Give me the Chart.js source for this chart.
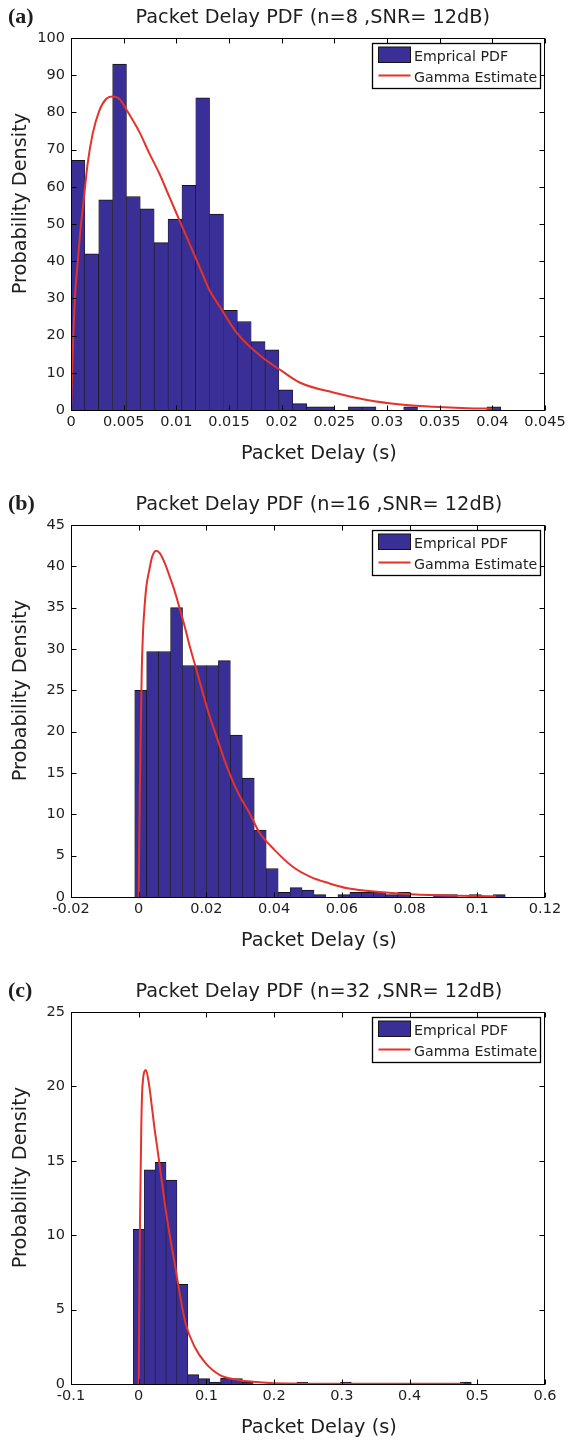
<!DOCTYPE html>
<html>
<head>
<meta charset="utf-8">
<title>Packet Delay PDF</title>
<script src="https://cdn.jsdelivr.net/npm/chart.js@4.4.1/dist/chart.umd.min.js"></script>
<style>
body{margin:0;background:#fff;}
canvas{display:block;}
</style>
</head>
<body>
<canvas id="panelA" width="574" height="487"></canvas>
<canvas id="panelB" width="574" height="487"></canvas>
<canvas id="panelC" width="574" height="466"></canvas>
<script>
// (a) n=8 : histogram bin centres (s) and densities
var binsA = [0.00066, 0.00197, 0.00329, 0.00461, 0.00592, 0.00724, 0.00856, 0.00987, 0.01119, 0.0125,
             0.01382, 0.01514, 0.01645, 0.01777, 0.01908, 0.0204, 0.02172, 0.02303, 0.02435, 0.02566,
             0.02698, 0.0283, 0.02961, 0.03093, 0.03224, 0.03356, 0.03488, 0.03619, 0.03751, 0.03882, 0.04014];
var densityA = [67.1, 42.0, 56.5, 93.0, 57.4, 54.1, 45.0, 51.3, 60.4, 83.9,
                52.7, 26.8, 23.8, 18.4, 16.2, 5.4, 1.7, 0.85, 0.85, 0,
                0.85, 0.85, 0, 0, 0.85, 0, 0, 0, 0, 0, 0.85];
// gamma fit (a)
var gammaXA = [0, 0.00013, 0.00038, 0.00063, 0.00089, 0.00117, 0.00158, 0.00206, 0.00269, 0.00333, 0.0039,
               0.0046, 0.0054, 0.0065, 0.00745, 0.0084, 0.00935, 0.0103, 0.01125, 0.0122, 0.01315,
               0.0141, 0.0158, 0.018, 0.02, 0.0217, 0.0249, 0.0281, 0.0313, 0.0344, 0.0376, 0.0401];
var gammaYA = [0, 12.5, 30.4, 39.4, 48.3, 55.5, 66.2, 74.3, 80.5, 83.6, 84.3,
               83.6, 80.1, 74.7, 68.9, 63.5, 57.2, 51.0, 44.7, 38.5, 32.2,
               27.9, 20.5, 14.5, 10.5, 7.4, 4.7, 2.7, 1.5, 0.9, 0.5, 0.35];
var xTicksA = [0, 0.005, 0.01, 0.015, 0.02, 0.025, 0.03, 0.035, 0.04, 0.045];
var xLabelsA = ['0', '0.005', '0.01', '0.015', '0.02', '0.025', '0.03', '0.035', '0.04', '0.045'];
var yTicksA = [0, 10, 20, 30, 40, 50, 60, 70, 80, 90, 100];

// (b) n=16
var binsB = [0.00059, 0.00412, 0.00765, 0.01118, 0.01471, 0.01824, 0.02177, 0.0253, 0.02883, 0.03236,
             0.03589, 0.03942, 0.04295, 0.04648, 0.05001, 0.05354, 0.05707, 0.0606, 0.06413, 0.06766,
             0.07119, 0.07472, 0.07825, 0.08178, 0.08531, 0.08884, 0.09237, 0.0959, 0.09943, 0.10296, 0.10649];
var densityB = [25.0, 29.7, 29.7, 35.0, 28.0, 28.0, 28.0, 28.6, 19.6, 14.4,
                8.1, 3.45, 0.57, 1.13, 0.85, 0.28, 0, 0.28, 0.57, 0.57,
                0.57, 0.28, 0.57, 0, 0, 0.28, 0.28, 0, 0.28, 0, 0.28];
var gammaXB = [0, 0.0003, 0.0006, 0.0009, 0.0013, 0.0018, 0.0023, 0.0031, 0.004, 0.0052, 0.0062,
               0.0077, 0.0092, 0.0107, 0.0121, 0.0136, 0.0151, 0.0171, 0.019, 0.021, 0.023,
               0.0254, 0.0282, 0.0304, 0.0328, 0.0355, 0.0401, 0.0455, 0.0509, 0.0563, 0.0617,
               0.0672, 0.078, 0.0888, 0.1056];
var gammaYB = [0, 12, 20, 27.4, 32.3, 35.5, 37.7, 39.5, 41.2, 41.9, 41.6,
               40.4, 38.7, 36.9, 34.9, 32.7, 30.3, 27.4, 24.6, 21.8, 19.4,
               16.5, 13.6, 11.8, 10.1, 7.9, 5.7, 3.66, 2.4, 1.65, 1.05,
               0.75, 0.4, 0.2, 0.08];
var xTicksB = [-0.02, 0, 0.02, 0.04, 0.06, 0.08, 0.1, 0.12];
var xLabelsB = ['-0.02', '0', '0.02', '0.04', '0.06', '0.08', '0.1', '0.12'];
var yTicksB = [0, 5, 10, 15, 20, 25, 30, 35, 40, 45];

// (c) n=32
var binsC = [0.0001, 0.0162, 0.0323, 0.0484, 0.0645, 0.0806, 0.0967, 0.1128, 0.1289, 0.145,
             0.1611, 0.1772, 0.1933, 0.2094, 0.2255, 0.2416, 0.2577, 0.2738, 0.2899, 0.306,
             0.3221, 0.3382, 0.3543, 0.3704, 0.3865, 0.4026, 0.4187, 0.4348, 0.4509, 0.467, 0.4831];
var densityC = [10.4, 14.4, 14.9, 13.7, 6.7, 0.63, 0.36, 0.13, 0.4, 0.36,
                0.13, 0, 0, 0, 0, 0.13, 0, 0, 0, 0.13,
                0, 0, 0, 0, 0, 0, 0, 0, 0, 0, 0.13];
var gammaXC = [0, 0.0018, 0.0038, 0.0055, 0.0106, 0.015, 0.019, 0.023, 0.027, 0.031, 0.038,
               0.0447, 0.0528, 0.0609, 0.069, 0.0825, 0.0987, 0.12, 0.147, 0.174, 0.2, 0.3, 0.48];
var gammaYC = [0, 10.6, 17.3, 20.0, 21.1, 20.2, 18.8, 17.3, 16.0, 14.7, 12.3,
               10.3, 8.2, 6.0, 4.1, 2.5, 1.4, 0.6, 0.27, 0.13, 0.05, 0.02, 0.02];
var xTicksC = [-0.1, 0, 0.1, 0.2, 0.3, 0.4, 0.5, 0.6];
var xLabelsC = ['-0.1', '0', '0.1', '0.2', '0.3', '0.4', '0.5', '0.6'];
var yTicksC = [0, 5, 10, 15, 20, 25];

var barBlue = '#3a2f96';
var barEdge = '#141414';
var lineRed = '#e5322a';
var textCol = '#1e1e1e';
var fontSans = '"DejaVu Sans", sans-serif';
var xTitle = 'Packet Delay (s)';
var yTitle = 'Probability Density';

Chart.defaults.font.family = fontSans;

// axes box, inward ticks, legend box and all labels (matlab look)
var panelDecor = {
	id: 'panelDecor',
	afterDraw: function(chart, args, o) {
		var ctx = chart.ctx, a = chart.chartArea;
		var sx = chart.scales.x, sy = chart.scales.y;
		var L = a.left + 0.5, R = a.right - 0.5, T = a.top + 0.5, B = a.bottom + 0.5;
		ctx.save();
		ctx.strokeStyle = '#000';
		ctx.lineWidth = 1;
		ctx.strokeRect(L, T, R - L, B - T);
		ctx.beginPath();
		sx.ticks.forEach(function(t) {
			var px = Math.round(sx.getPixelForValue(t.value)) + 0.5;
			ctx.moveTo(px, B); ctx.lineTo(px, B - 5);
			ctx.moveTo(px, T); ctx.lineTo(px, T + 5);
		});
		sy.ticks.forEach(function(t) {
			var py = Math.round(sy.getPixelForValue(t.value)) + 0.5;
			ctx.moveTo(L, py); ctx.lineTo(L + 5, py);
			ctx.moveTo(R, py); ctx.lineTo(R - 5, py);
		});
		ctx.stroke();

		// legend
		var lineSet = chart.data.datasets[0], barSet = chart.data.datasets[1];
		var bx = Math.round(a.right) - 173, by = Math.round(a.top) + 5, bw = 168, bh = 45;
		ctx.fillStyle = '#fff';
		ctx.fillRect(bx, by, bw, bh);
		ctx.lineWidth = 1.3;
		ctx.strokeStyle = '#000';
		ctx.strokeRect(bx + 0.5, by + 0.5, bw, bh);
		ctx.fillStyle = barSet.backgroundColor;
		ctx.fillRect(bx + 6.5, by + 4, 32, 15.5);
		ctx.lineWidth = 1;
		ctx.strokeStyle = barEdge;
		ctx.strokeRect(bx + 6.5, by + 4, 32, 15.5);
		ctx.strokeStyle = lineSet.borderColor;
		ctx.lineWidth = 2;
		ctx.beginPath();
		ctx.moveTo(bx + 6.5, by + 32.5); ctx.lineTo(bx + 38.5, by + 32.5);
		ctx.stroke();
		ctx.fillStyle = textCol;
		ctx.font = '14.2px ' + fontSans;
		ctx.textAlign = 'left';
		ctx.textBaseline = 'alphabetic';
		ctx.fillText(barSet.label, bx + 42, by + 18.3);
		ctx.fillText(lineSet.label, bx + 42, by + 39);

		// panel letter, title, axis titles
		ctx.font = 'bold 22px "Liberation Serif", serif';
		ctx.fillText(o.letter, 8, 22.5);
		ctx.font = '19.3px ' + fontSans;
		ctx.fillText(o.title, 135.5, a.top - 14.7);
		ctx.fillText(xTitle, 241, a.bottom + 49);
		ctx.translate(21, a.top + 165.5);
		ctx.rotate(-Math.PI / 2);
		ctx.textAlign = 'center';
		ctx.textBaseline = 'middle';
		ctx.fillText(yTitle, 0, 0);
		ctx.restore();
	}
};

function makePanel(id, p) {
	var cv = document.getElementById(id);
	var xAxisH = cv.height - 410;
	return new Chart(cv, {
		type: 'bar',
		data: {
			datasets: [
				{
					type: 'line',
					label: 'Gamma Estimate',
					data: p.gx.map(function(v, i) { return {x: v, y: p.gy[i]}; }),
					borderColor: lineRed,
					borderWidth: 2,
					pointRadius: 0,
					fill: false,
					cubicInterpolationMode: 'monotone',
					order: 0
				},
				{
					type: 'bar',
					label: 'Emprical PDF',
					data: p.bins.map(function(v, i) { return {x: v, y: p.dens[i]}; }),
					backgroundColor: barBlue,
					borderColor: barEdge,
					borderWidth: {top: 1, left: 0.6, right: 0.6, bottom: 0},
					barPercentage: 1,
					categoryPercentage: 1,
					order: 1
				}
			]
		},
		options: {
			responsive: false,
			animation: false,
			layout: {padding: {top: 38, right: 29, bottom: 0, left: 0}},
			scales: {
				x: {
					type: 'linear',
					offset: false,
					min: p.xTicks[0],
					max: p.xTicks[p.xTicks.length - 1],
					afterBuildTicks: function(s) { s.ticks = p.xTicks.map(function(v) { return {value: v}; }); },
					afterFit: function(s) { s.height = xAxisH; },
					grid: {display: false, drawTicks: false},
					border: {display: false},
					ticks: {
						autoSkip: false,
						maxRotation: 0,
						padding: 4,
						color: textCol,
						font: {size: 14.5},
						callback: function(v, i) { return p.xLabels[i]; }
					}
				},
				y: {
					type: 'linear',
					min: p.yTicks[0],
					max: p.yTicks[p.yTicks.length - 1],
					afterBuildTicks: function(s) { s.ticks = p.yTicks.map(function(v) { return {value: v}; }); },
					afterFit: function(s) { s.width = 71; },
					grid: {display: false, drawTicks: false},
					border: {display: false},
					ticks: {
						padding: 6,
						color: textCol,
						font: {size: 14.5},
						callback: function(v) { return String(v); }
					}
				}
			},
			plugins: {
				legend: {display: false},
				tooltip: {enabled: false},
				title: {display: false},
				panelDecor: {letter: p.letter, title: p.title}
			}
		},
		plugins: [panelDecor]
	});
}

makePanel('panelA', {letter: '(a)', title: 'Packet Delay PDF (n=8 ,SNR= 12dB)',
	bins: binsA, dens: densityA, gx: gammaXA, gy: gammaYA, xTicks: xTicksA, xLabels: xLabelsA, yTicks: yTicksA});
makePanel('panelB', {letter: '(b)', title: 'Packet Delay PDF (n=16 ,SNR= 12dB)',
	bins: binsB, dens: densityB, gx: gammaXB, gy: gammaYB, xTicks: xTicksB, xLabels: xLabelsB, yTicks: yTicksB});
makePanel('panelC', {letter: '(c)', title: 'Packet Delay PDF (n=32 ,SNR= 12dB)',
	bins: binsC, dens: densityC, gx: gammaXC, gy: gammaYC, xTicks: xTicksC, xLabels: xLabelsC, yTicks: yTicksC});
</script>
</body>
</html>
